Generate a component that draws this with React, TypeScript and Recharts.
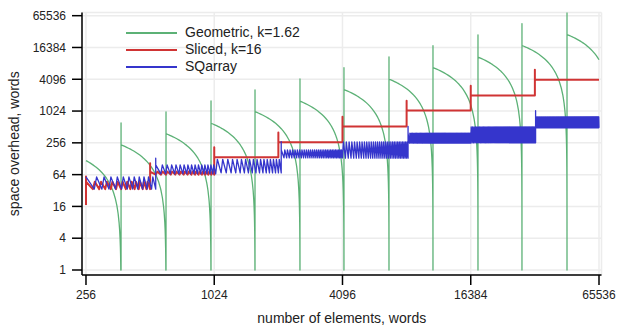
import React from 'react';
import { LineChart, Line, XAxis, YAxis, CartesianGrid, Legend } from 'recharts';

const FONT = '"Liberation Sans", Arial, Helvetica, sans-serif';

// axes
const xTicks = [256, 1024, 4096, 16384, 65536];
const yTicks = [1, 4, 16, 64, 256, 1024, 4096, 16384, 65536];
const xDomain = [245.2, 67330];
const yDomain = [0.804, 75300];

const seriesNames = ['Geometric, k=1.62', 'Sliced, k=16', 'SQarray'];

// Geometric, k=1.62 : array is full (and regrows) at these sizes
const geoFirstN = 256;
const geoLastN = 65536;
const geoGrowthN = [374, 608, 989, 1591, 2587, 4162, 6771, 10893, 17717, 28502, 46376];
const geoFactor = 1.62;

// Sliced, k=16 : per segment start, spike at start, tooth peak / trough, tooth count
const slicedInitial = 17;
const slicedStart = [256, 512, 1024, 2048, 4096, 8192, 16384, 32768];
const slicedSpike = [59, 105, 212, 401, 797, 1605, 3090, 6200];
const slicedPeak = [47, 73, 137, 262, 522, 1048, 2020, 4010];
const slicedTrough = [34, 64, 137, 262, 522, 1048, 2020, 4010];
const slicedTeeth = [13, 16, 1, 1, 1, 1, 1, 1];

// SQarray
const sqStart = [256, 544, 1040, 2112, 4096, 8320, 16384, 33024];
const sqSpike = [58, 131, 0, 271, 0, 522, 0, 1037];
const sqPeak = [58, 98, 125, 189, 267, 391, 515, 797];
const sqTrough = [34, 66, 69, 133, 131, 253, 256, 493];
const sqTeeth = [12, 16, 17, 31, 32, 63, 64, 128];

type Pt = { x: number; y: number };

function buildGeometric(): Pt[] {
  const pts: Pt[] = [];
  const bounds = [geoFirstN, ...geoGrowthN, geoLastN];
  for (let k = 0; k < bounds.length - 1; k++) {
    const s = bounds[k];
    const e = bounds[k + 1];
    const last = k === bounds.length - 2;
    const cap = last ? geoGrowthN[geoGrowthN.length - 1] * geoFactor : e;
    if (k > 0) pts.push({ x: s, y: cap });
    const ns: number[] = [];
    const J = 24;
    for (let j = 0; j <= J; j++) ns.push(s * Math.pow(e / s, j / J));
    if (!last) {
      for (let m = 0; m < 40; m++) {
        const n = cap - Math.pow(2, m / 2);
        if (n > s && n < e) ns.push(n);
      }
    }
    ns.sort((a, b) => a - b);
    ns.forEach((n) => pts.push({ x: n, y: Math.max(cap - n, 1) }));
  }
  return pts;
}

function buildSaw(
  starts: number[], spikes: number[], peaks: number[], troughs: number[], counts: number[],
  endN: number, rise: number, initial?: number
): Pt[] {
  const pts: Pt[] = [];
  if (initial) pts.push({ x: starts[0], y: initial });
  starts.forEach((s, k) => {
    const e = k + 1 < starts.length ? starts[k + 1] : endN;
    const T = counts[k];
    const hasSpike = spikes[k] > 0;
    if (hasSpike) {
      pts.push({ x: s, y: spikes[k] });
      pts.push({ x: s, y: peaks[k] });
    }
    for (let i = 0; i < T; i++) {
      const a = s + ((e - s) * i) / T;
      const b = s + ((e - s) * (i + 1)) / T;
      if (!(i === 0 && hasSpike)) pts.push({ x: a + (b - a) * rise, y: peaks[k] });
      pts.push({ x: b, y: troughs[k] });
    }
  });
  return pts;
}

const renderLegend = (props: any) => {
  const items = [...(props.payload || [])].sort(
    (a: any, b: any) => seriesNames.indexOf(a.value) - seriesNames.indexOf(b.value)
  );
  return (
    <div style={{ fontFamily: FONT, fontSize: 14, color: '#222' }}>
      {items.map((p: any) => (
        <div key={p.value} style={{ display: 'flex', alignItems: 'center', height: 17 }}>
          <svg width={51} height={4} style={{ marginRight: 8, display: 'block' }}>
            <line x1={0} x2={51} y1={2} y2={2} stroke={p.color} strokeWidth={2} />
          </svg>
          <span style={{ lineHeight: '17px', whiteSpace: 'nowrap' }}>{p.value}</span>
        </div>
      ))}
    </div>
  );
};

export default function App() {
  const geo = buildGeometric();
  const sliced = buildSaw(slicedStart, slicedSpike, slicedPeak, slicedTrough, slicedTeeth, geoLastN, 0.3, slicedInitial);
  const sq = buildSaw(sqStart, sqSpike, sqPeak, sqTrough, sqTeeth, geoLastN, 0.3);
  const tickStyle = { fontSize: 12, fill: '#222', fontFamily: FONT };
  return (
    <div style={{ position: 'absolute', left: 0, top: 0, width: 617, height: 326, background: '#fff' }}>
      <LineChart width={617} height={326} margin={{ top: 12.5, right: 15.5, bottom: 0, left: 0 }}>
        <CartesianGrid stroke="#ececec" strokeWidth={1.5} />
        <XAxis
          type="number"
          dataKey="x"
          scale="log"
          domain={xDomain}
          allowDataOverflow
          ticks={xTicks}
          interval={0}
          height={51}
          tickSize={10}
          tickMargin={5}
          tick={tickStyle}
          axisLine={{ stroke: '#000', strokeWidth: 1.5 }}
          tickLine={{ stroke: '#000', strokeWidth: 1.5 }}
          label={{ value: 'number of elements, words', position: 'insideBottom', offset: 3, style: { fontSize: 14, fill: '#222', fontFamily: FONT } }}
        />
        <YAxis
          type="number"
          scale="log"
          domain={yDomain}
          allowDataOverflow
          ticks={yTicks}
          interval={0}
          width={82}
          tickSize={10}
          tickMargin={6}
          tick={tickStyle}
          axisLine={{ stroke: '#000', strokeWidth: 1.5 }}
          tickLine={{ stroke: '#000', strokeWidth: 1.5 }}
          label={{ value: 'space overhead, words', angle: -90, position: 'insideLeft', offset: 14, style: { textAnchor: 'middle', fontSize: 14, fill: '#222', fontFamily: FONT } }}
        />
        <Legend
          layout="vertical"
          align="center"
          verticalAlign="middle"
          wrapperStyle={{ left: 126, top: 24, width: 220 }}
          content={renderLegend}
        />
        <Line data={geo} dataKey="y" name={seriesNames[0]} stroke="#5cb176" strokeWidth={1.3} dot={false} activeDot={false} isAnimationActive={false} strokeLinejoin="round" />
        <Line data={sliced} dataKey="y" name={seriesNames[1]} stroke="#d03434" strokeWidth={2} dot={false} activeDot={false} isAnimationActive={false} strokeLinejoin="round" />
        <Line data={sq} dataKey="y" name={seriesNames[2]} stroke="#3535cc" strokeWidth={1.3} dot={false} activeDot={false} isAnimationActive={false} strokeLinejoin="round" />
      </LineChart>
    </div>
  );
}
